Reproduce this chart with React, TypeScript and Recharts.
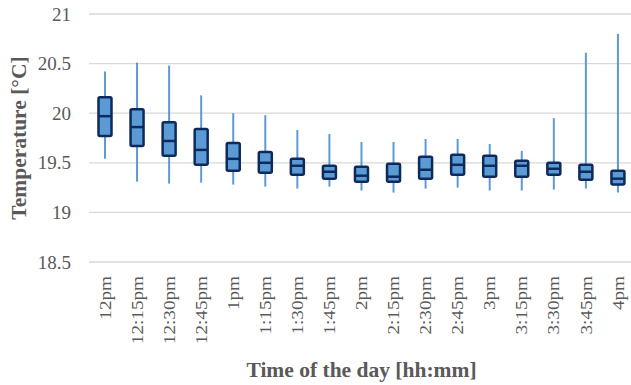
import { ComposedChart, Bar, XAxis, YAxis, CartesianGrid, Label } from 'recharts';

const times = [
  '12pm', '12:15pm', '12:30pm', '12:45pm', '1pm', '1:15pm', '1:30pm', '1:45pm', '2pm',
  '2:15pm', '2:30pm', '2:45pm', '3pm', '3:15pm', '3:30pm', '3:45pm', '4pm',
];
const whiskerHigh = [20.42, 20.51, 20.48, 20.18, 20.0, 19.98, 19.83, 19.79, 19.71, 19.71, 19.74, 19.74, 19.69, 19.62, 19.95, 20.61, 20.8];
const q3 = [20.16, 20.04, 19.91, 19.84, 19.7, 19.61, 19.54, 19.47, 19.46, 19.49, 19.56, 19.58, 19.57, 19.52, 19.5, 19.48, 19.42];
const median = [19.97, 19.86, 19.72, 19.63, 19.54, 19.5, 19.47, 19.41, 19.37, 19.36, 19.43, 19.48, 19.47, 19.47, 19.44, 19.41, 19.34];
const q1 = [19.77, 19.67, 19.57, 19.48, 19.42, 19.4, 19.38, 19.34, 19.31, 19.31, 19.34, 19.38, 19.36, 19.36, 19.38, 19.33, 19.28];
const whiskerLow = [19.54, 19.31, 19.29, 19.3, 19.28, 19.26, 19.24, 19.26, 19.22, 19.2, 19.24, 19.25, 19.22, 19.22, 19.23, 19.24, 19.2];
const yTicks = [18.5, 19, 19.5, 20, 20.5, 21];

const data = times.map((t, i) => ({
  time: t,
  low: whiskerLow[i],
  q1: q1[i],
  median: median[i],
  q3: q3[i],
  high: whiskerHigh[i],
}));

const FONT = '"Liberation Serif", "Times New Roman", Times, serif';
const TEXT = '#595959';
const WHISKER = '#5b9bd5';
const BOX_FILL = '#5b9bd5';
const BOX_EDGE = '#0e2a5c';

// the bar spans [low, high]; inner marks are placed on that same linear pixel range
function BoxShape(props: any) {
  const { x, y, width, height, payload } = props;
  const { low, high } = payload;
  const pos = (v: number) => y + ((high - v) / (high - low)) * height;
  const cx = x + width / 2;
  const boxW = 13;
  const top = pos(payload.q3);
  const bottom = pos(payload.q1);
  return (
    <g>
      <line x1={cx} x2={cx} y1={y} y2={y + height} stroke={WHISKER} strokeWidth={2} />
      <rect
        x={cx - boxW / 2}
        y={top}
        width={boxW}
        height={bottom - top}
        fill={BOX_FILL}
        stroke={BOX_EDGE}
        strokeWidth={2.5}
        rx={1.5}
      />
      <line
        x1={cx - boxW / 2}
        x2={cx + boxW / 2}
        y1={pos(payload.median)}
        y2={pos(payload.median)}
        stroke={BOX_EDGE}
        strokeWidth={2.5}
      />
    </g>
  );
}

function TimeTick(props: any) {
  const { x, y, payload } = props;
  return (
    <text
      transform={`translate(${x},${y}) rotate(-90) scale(1.2,1)`}
      textAnchor="end"
      dy="0.35em"
      fill={TEXT}
      fontSize={16}
      style={{ fontFamily: FONT }}
    >
      {payload.value}
    </text>
  );
}

function YTick(props: any) {
  const { x, y, payload } = props;
  return (
    <text x={x} y={y} dy="0.35em" textAnchor="end" fill={TEXT} fontSize={19} style={{ fontFamily: FONT }}>
      {payload.value}
    </text>
  );
}

export default function App() {
  return (
    <div
      style={{
        position: 'absolute',
        left: 0,
        top: 0,
        width: 631,
        height: 385,
        overflow: 'hidden',
        background: '#fff',
        fontFamily: FONT,
      }}
    >
      <ComposedChart width={640} height={385} data={data} margin={{ top: 14, right: 6, left: 0, bottom: 0 }}>
        <CartesianGrid vertical={false} stroke="#d9d9d9" strokeWidth={1.3} />
        <XAxis
          dataKey="time"
          interval={0}
          height={123}
          axisLine={false}
          tickLine={false}
          tickMargin={8}
          tick={<TimeTick />}
        >
          <Label
            content={(p: any) => {
              const vb = p.viewBox || { x: 89, y: 262, width: 545, height: 123 };
              return (
                <text
                  x={vb.x + vb.width / 2}
                  y={vb.y + vb.height - 8}
                  textAnchor="middle"
                  fill={TEXT}
                  fontSize={21.5}
                  fontWeight="bold"
                  style={{ fontFamily: FONT }}
                >
                  Time of the day [hh:mm]
                </text>
              );
            }}
          />
        </XAxis>
        <YAxis
          width={89}
          domain={[18.5, 21]}
          ticks={yTicks}
          axisLine={false}
          tickLine={false}
          tickMargin={12}
          tick={<YTick />}
        >
          <Label
            content={(p: any) => {
              const vb = p.viewBox || { x: 0, y: 14, width: 89, height: 248 };
              const cy = vb.y + vb.height / 2;
              return (
                <text
                  x={26}
                  y={cy}
                  transform={`rotate(-90, 26, ${cy})`}
                  textAnchor="middle"
                  fill={TEXT}
                  fontSize={21.5}
                  fontWeight="bold"
                  style={{ fontFamily: FONT }}
                >
                  Temperature [°C]
                </text>
              );
            }}
          />
        </YAxis>
        <Bar
          dataKey={(d: any) => [d.low, d.high]}
          barSize={16}
          shape={<BoxShape />}
          isAnimationActive={false}
        />
      </ComposedChart>
    </div>
  );
}
